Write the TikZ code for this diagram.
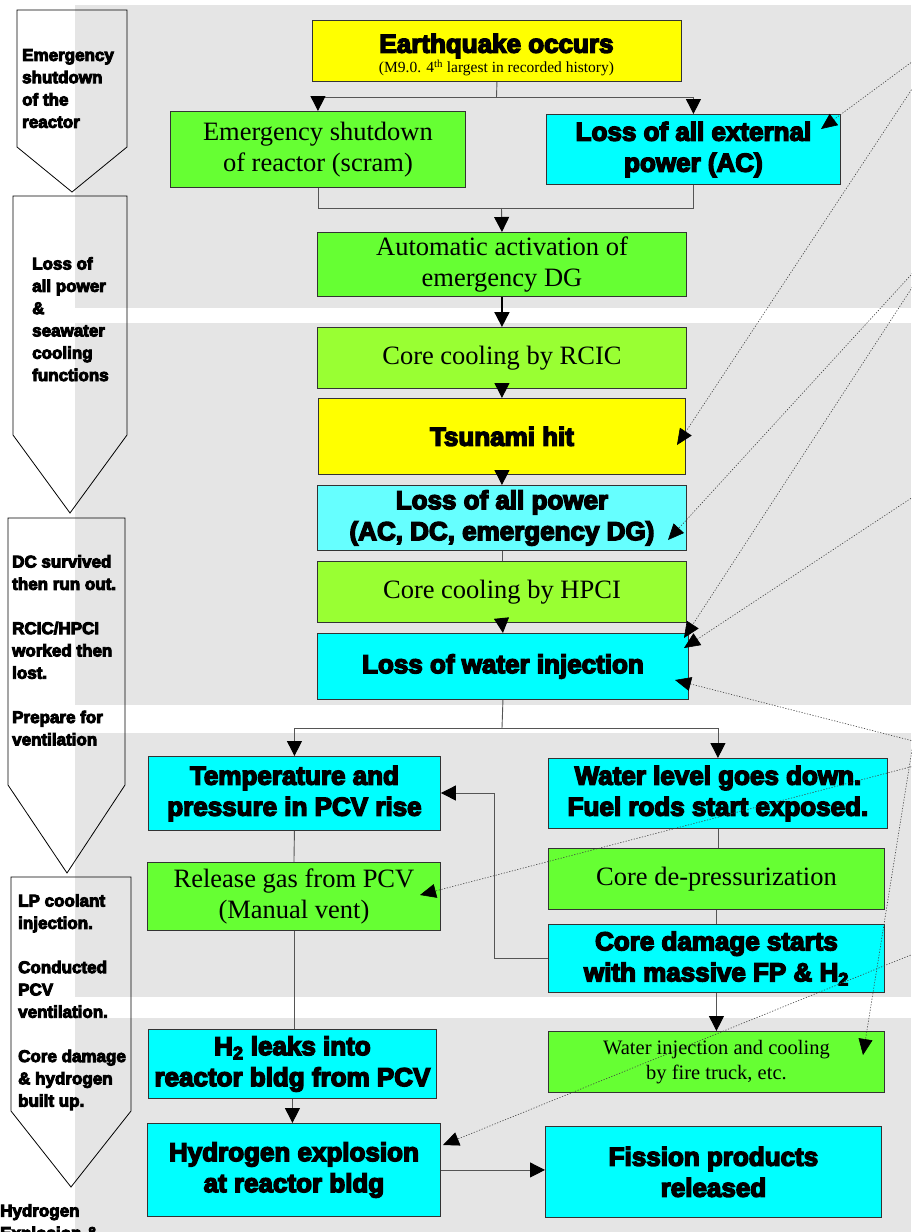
\documentclass[tikz,border=0pt]{standalone}
\usepackage{fontspec}
\setmainfont{Liberation Serif}
\newfontfamily\heavy{Liberation Sans}[BoldFeatures={FakeBold=5.5}]
\usetikzlibrary{arrows.meta,calc}
\definecolor{band}{HTML}{E5E5E5}
\definecolor{quakeyellow}{HTML}{FFFF00}
\definecolor{boxgreen}{HTML}{66FF33}
\definecolor{limegreen}{HTML}{99FF33}
\definecolor{aqua}{HTML}{00FFFF}
\definecolor{paleaqua}{HTML}{66FFFF}
\definecolor{edge}{HTML}{333333}
\definecolor{wire}{HTML}{555555}
\begin{document}
\begin{tikzpicture}[x=1pt,y=-1pt,
  box/.style={draw=edge, line width=0.9pt, inner sep=0pt, align=center, anchor=north west},
  hv/.style={font=\heavy\bfseries\fontsize{26}{31}\selectfont},
  rm/.style={font=\fontsize{26.5}{31.5}\selectfont},
  link/.style={draw=wire, line width=0.9pt},
  flow/.style={link, -{Triangle[length=15pt,width=15pt,color=black]}},
  cue/.style={draw=black!75, line width=0.6pt, dash pattern=on 1.2pt off 1.6pt,
              -{Triangle[length=16pt,width=14pt,color=black]}},
  phase/.style={draw=black, line width=0.8pt},
  phasetext/.style={font=\heavy\bfseries\fontsize{17}{22.3}\selectfont, align=left,
                    anchor=north west, inner sep=0pt},
]
\useasboundingbox (0,0) rectangle (911,1232);

% shaded stage bands
\fill[band] (75,5) rectangle (911,308);
\fill[band] (75,323) rectangle (911,705);
\fill[band] (75,733) rectangle (911,997);
\fill[band] (75,1018) rectangle (911,1232);

% stage arrows down the left margin
\draw[phase] (17,10) -- (127,10) -- (127,147) -- (72,192) -- (17,147) -- cycle;
\draw[phase] (13,196) -- (127,196) -- (127,435) -- (70,513) -- (13,435) -- cycle;
\draw[phase] (8,518) -- (125,518) -- (125,785) -- (67,873) -- (8,785) -- cycle;
\draw[phase] (11,877) -- (131,877) -- (131,1111) -- (71,1187) -- (11,1111) -- cycle;

\node[phasetext] (stage1) at (22,49) {Emergency\\shutdown\\of the\\reactor};
\node[phasetext] (stage2) at (32,257) {Loss of\\all power\\\&\\seawater\\cooling\\functions};
\node[phasetext] (stage3) at (12,555) {DC survived\\then run out.\\[22pt]RCIC/HPCI\\worked then\\lost.\\[22pt]Prepare for\\ventilation};
\node[phasetext] (stage4) at (18,894) {LP coolant\\injection.\\[22pt]Conducted\\PCV\\ventilation.\\[22pt]Core damage\\\& hydrogen\\built up.};
\node[phasetext] (stage5) at (0,1204) {Hydrogen\\Explosion \&};

% event boxes
\node[box, fill=quakeyellow, minimum width=369pt, minimum height=61pt] (quake) at (312,20) {};
\node[hv] (quaketitle) at (496.5,46) {Earthquake occurs};
\node[font=\fontsize{15.5}{18}\selectfont] (quakenote) at (496.5,68)
  {(M9.0. 4\textsuperscript{th} largest in recorded history)};

\node[box, rm, fill=boxgreen, minimum width=295pt, minimum height=76pt] (scram) at (170,111) {Emergency shutdown\\of reactor (scram)};
\node[box, hv, fill=aqua, minimum width=294pt, minimum height=70pt] (extpow) at (546,114) {Loss of all external\\power (AC)};
\node[box, rm, fill=boxgreen, minimum width=369pt, minimum height=64pt] (autodg) at (317,232) {Automatic activation of\\emergency DG};
\node[box, rm, fill=limegreen, minimum width=369pt, minimum height=61pt] (rcic) at (317,327) {Core cooling by RCIC};
\node[box, hv, fill=quakeyellow, minimum width=367pt, minimum height=76pt] (tsunami) at (318,398) {Tsunami hit};
\node[box, hv, fill=paleaqua, minimum width=369pt, minimum height=65pt] (allpow) at (317,485) {Loss of all power\\(AC, DC, emergency DG)};
\node[box, rm, fill=limegreen, minimum width=369pt, minimum height=61pt] (hpci) at (317,561) {Core cooling by HPCI};
\node[box, hv, fill=aqua, minimum width=371pt, minimum height=66pt] (waterinj) at (317,633) {Loss of water injection};

\node[box, hv, fill=aqua, minimum width=292pt, minimum height=74pt] (temp) at (148,756) {Temperature and\\pressure in PCV rise};
\node[box, rm, fill=boxgreen, minimum width=293pt, minimum height=68pt] (release) at (147,862) {Release gas from PCV\\(Manual vent)};
\node[box, hv, fill=aqua, minimum width=288pt, minimum height=69pt] (h2leak) at (148,1029) {H\textsubscript{2} leaks into\\reactor bldg from PCV};
\node[box, hv, fill=aqua, minimum width=293pt, minimum height=93pt] (explosion) at (147,1123) {Hydrogen explosion\\at reactor bldg};

\node[box, hv, fill=aqua, minimum width=339pt, minimum height=70pt] (wlevel) at (548,758) {Water level goes down.\\Fuel rods start exposed.};
\node[box, rm, fill=boxgreen, minimum width=336pt, minimum height=61pt] (depress) at (548,848) {Core de-pressurization};
\node[box, hv, fill=aqua, minimum width=336pt, minimum height=68pt] (cdamage) at (548,924) {Core damage starts\\with massive FP \& H\textsubscript{2}};
\node[box, fill=boxgreen, font=\fontsize{20.5}{25}\selectfont, minimum width=336pt, minimum height=61pt] (firetruck) at (548,1031) {Water injection and cooling\\by fire truck, etc.};
\node[box, hv, fill=aqua, minimum width=336pt, minimum height=91pt] (fission) at (545,1126) {Fission products\\released};

% sequence connectors
\coordinate (qsplit) at (496.5,97);
\draw[link] (quake.south) -- (qsplit);
\draw[flow] (qsplit) -| (scram.north);
\draw[flow] (qsplit) -| (extpow.north);

\coordinate (dgmerge) at (501.5,208);
\draw[link] (scram.south) |- (dgmerge);
\draw[link] (extpow.south) |- (dgmerge);
\draw[flow] (dgmerge) -- (autodg.north);
\draw[flow, draw=black, line width=1.8pt] (autodg.south) -- (rcic.north);
\draw[flow] (rcic.south) -- (tsunami.north);
\draw[flow] (tsunami.south) -- (allpow.north);
\draw[link] (allpow.south) -- (hpci.north);
\draw[flow] (hpci.south) -- (waterinj.north);

\coordinate (wsplit) at (502,728);
\draw[link] (waterinj.south) -- (wsplit);
\draw[flow] (wsplit) -| (temp.north);
\draw[flow] (wsplit) -| (wlevel.north);

\draw[link] (temp.south) -- (release.north);
\draw[link] (release.south) -- (release.south |- h2leak.north);
\draw[flow] (h2leak.south) -- (h2leak.south |- explosion.north);
\draw[flow] (explosion.east) -- (explosion.east -| fission.west);

\draw[link] (wlevel.south) -- (wlevel.south |- depress.north);
\draw[link] (depress.south) -- (cdamage.north);
\draw[flow] (cdamage.south) -- (firetruck.north);
\coordinate (bypass) at (494,793);
\draw[flow] (cdamage.west) -| (bypass) -- (bypass -| temp.east);

% cross references entering from the right
\coordinate (srcA) at (947,36);
\coordinate (srcC) at (943,240);
\coordinate (srcE) at (960,466);
\coordinate (srcF) at (960,753);
\coordinate (srcG) at (960,754);
\coordinate (srcH) at (920,700);
\coordinate (srcI) at (960,935);
\coordinate (tipA) at (821,129);
\coordinate (tipB) at (677,445);
\coordinate (tipC) at (668,540);
\coordinate (tipD) at (684,638);
\coordinate (tipE) at (684,648);
\coordinate (tipF) at (675,680);
\coordinate (tipG) at (420,895);
\coordinate (tipH) at (863,1055);
\coordinate (tipI) at (443,1145);
\draw[cue] (srcA) -- (tipA);
\draw[cue] (srcA) -- (tipB);
\draw[cue] (srcC) -- (tipC);
\draw[cue] (srcC) -- (tipD);
\draw[cue] (srcE) -- (tipE);
\draw[cue] (srcF) -- (tipF);
\draw[cue] (srcG) -- (tipG);
\draw[cue] (srcH) -- (tipH);
\draw[cue] (srcI) -- (tipI);
\end{tikzpicture}
\end{document}
